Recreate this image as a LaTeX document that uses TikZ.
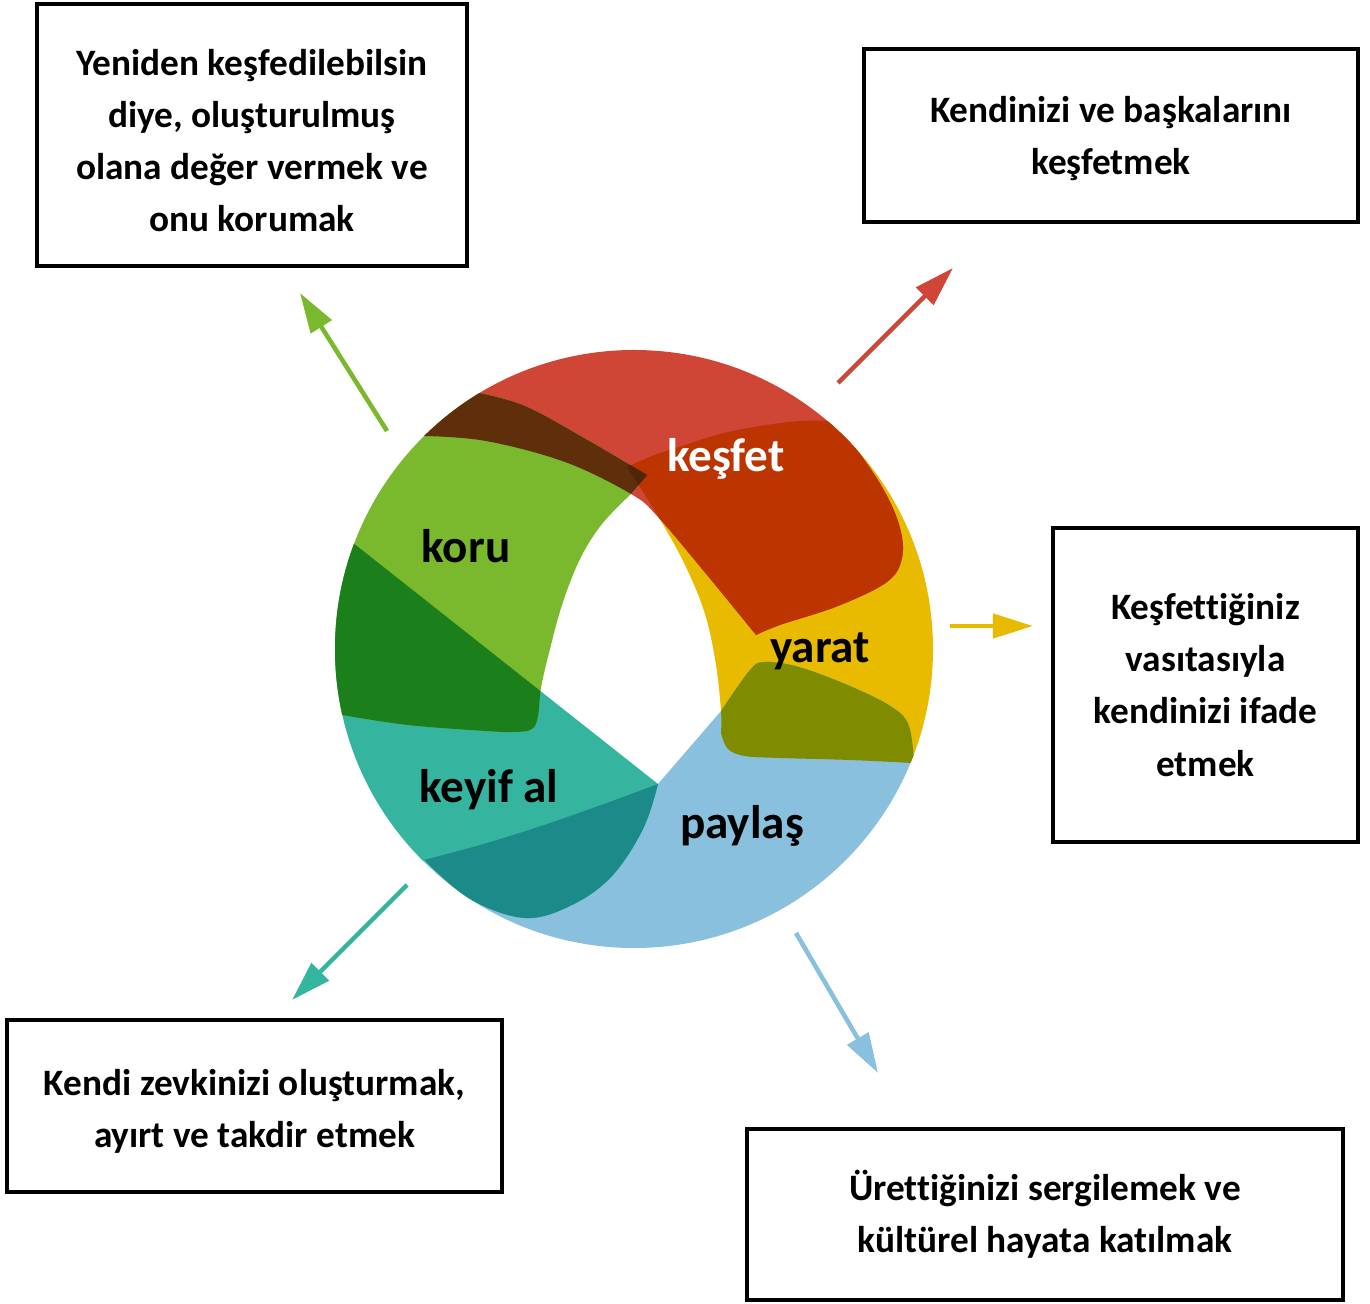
\documentclass[tikz,border=0pt]{standalone}
\usepackage{fontspec}
\setmainfont{Carlito}[Ligatures=NoCommon]
\usetikzlibrary{arrows.meta}
\definecolor{cR}{HTML}{CF4637}
\definecolor{cG}{HTML}{7AB82E}
\definecolor{cY}{HTML}{E8BB00}
\definecolor{cB}{HTML}{89C0DD}
\definecolor{cT}{HTML}{35B59F}
\definecolor{cRY}{HTML}{BC3400}
\definecolor{cRG}{HTML}{5E2F0A}
\definecolor{cRGY}{HTML}{4F2606}
\definecolor{cBY}{HTML}{7F8C00}
\definecolor{cTB}{HTML}{1C8A88}
\definecolor{cGT}{HTML}{1B801C}
\begin{document}
\begin{tikzpicture}[x=0.01cm,y=-0.01cm,
  boxst/.style={draw=black, line width=1.2pt, rectangle, align=center, inner sep=0pt,
    font=\fontsize{10.6}{14.8}\selectfont\bfseries},
  ringlbl/.style={anchor=base, inner sep=0pt, font=\fontsize{13.4}{16}\selectfont\bfseries},
  arr/.style={line width=1.3pt, -{Triangle[length=0.4cm,width=0.24cm]}}]
\useasboundingbox (0,0) rectangle (1370,1304);

\def\pathR{(380,380) -- (424,436) -- plot[smooth,tension=0.6] coordinates {(424,436) (486,441) (565,462) (631,494) (658,517) (707,575) (756,635)} -- plot[smooth,tension=0.6] coordinates {(756,635) (780,625) (838,606) (887,582) (902,558) (900,528) (886,494) (863,458) (834,422)} -- (900,380) -- (640,300) -- cycle}
\def\pathY{(627,467) -- plot[smooth,tension=0.6] coordinates {(627,467) (652,456) (682,446) (720,434) (760,426) (800,421) (836,421)} -- (880,380) -- (1000,600) -- (960,775) -- (912,763) -- plot[smooth,tension=0.6] coordinates {(912,763) (850,760) (780,758) (745,756) (728,749) (721,733)} -- plot[smooth,tension=0.6] coordinates {(721,733) (721,711) (716,665) (705,614) (685,565) (658,516) (627,467)} -- cycle}
\def\pathB{(380,900) -- (424,860) -- plot[smooth,tension=0.6] coordinates {(424,860) (480,845) (541,826) (604,804) (658,784)} -- (721,711) -- plot[smooth,tension=0.6] coordinates {(721,711) (750,670) (765,662) (799,667) (850,686) (892,707) (909,726) (914,763)} -- (960,790) -- (700,1000) -- (380,960) -- cycle}
\def\pathT{(300,501) -- (658,784) -- plot[smooth,tension=0.6] coordinates {(658,784) (643,829) (612,876) (572,905) (525,918) (470,899) (424,860)} -- (380,900) -- (250,700) -- cycle}
\def\pathG{(460,355) -- (479,393) -- plot[smooth,tension=0.6] coordinates {(479,393) (525,406) (584,438) (647,475)} -- (631,494) -- plot[smooth,tension=0.6] coordinates {(631,494) (602,524) (580,559) (562,605) (549,653) (541,688) (538,716) (532,729) (515,732) (486,731) (408,725) (342,715)} -- (300,715) -- (300,400) -- cycle}

% ring
\begin{scope}
  \clip (634,649) circle [radius=299];
  \fill[cY] \pathY;
  \fill[cR] \pathR;
  \fill[cB] \pathB;
  \fill[cT] \pathT;
  \fill[cG] \pathG;
  \begin{scope}\clip \pathY; \fill[cRY] \pathR; \end{scope}
  \begin{scope}\clip \pathB; \fill[cBY] \pathY; \end{scope}
  \begin{scope}\clip \pathT; \fill[cTB] \pathB; \end{scope}
  \begin{scope}\clip \pathG; \fill[cGT] \pathT; \end{scope}
  \begin{scope}\clip \pathG; \fill[cRG] \pathR; \end{scope}
  \begin{scope}\clip \pathG; \clip \pathR; \fill[cRGY] \pathY; \end{scope}
\end{scope}

% ring labels
\node[ringlbl, text=white] (kesfet) at (726,472) {keşfet};
\node[ringlbl] (koru) at (466,563) {koru};
\node[ringlbl] (yarat) at (820,663) {yarat};
\node[ringlbl] (keyif) at (489,803) {keyif al};
\node[ringlbl] (paylas) at (742,838) {paylaş};

% boxes
\node[boxst, minimum width=4.30cm, minimum height=2.62cm] (b1) at (252,135)
  {\rule{0pt}{10.4pt}Yeniden keşfedilebilsin\\diye, oluşturulmuş\\olana değer vermek ve\\onu korumak};
\node[boxst, minimum width=4.94cm, minimum height=1.73cm] (b2) at (1111,135.5)
  {\rule{0pt}{9.2pt}Kendinizi ve başkalarını\\keşfetmek};
\node[boxst, minimum width=3.05cm, minimum height=3.14cm] (b3) at (1205.5,685)
  {Keşfet\kern0pt t\kern0pt iğiniz\\vasıtasıyla\\kendinizi ifade\\etmek};
\node[boxst, minimum width=4.95cm, minimum height=1.72cm] (b4) at (254.5,1106)
  {\rule{0pt}{10.4pt}Kendi zevkinizi oluşturmak,\\ayırt ve takdir etmek};
\node[boxst, minimum width=5.96cm, minimum height=1.71cm] (b5) at (1045,1214.5)
  {Üret\kern0pt t\kern0pt iğinizi sergilemek ve\\kültürel hayata katılmak};

% arrows
\coordinate (gs) at (387,431); \coordinate (ge) at (300,293);
\coordinate (rs) at (838,383); \coordinate (re) at (953,268);
\coordinate (ys) at (950,626); \coordinate (ye) at (1033,626);
\coordinate (ts) at (407,885); \coordinate (te) at (292,1000);
\coordinate (bs) at (796,933); \coordinate (be) at (878,1073);
\draw[arr, cG] (gs) -- (ge);
\draw[arr, cR] (rs) -- (re);
\draw[arr, cY] (ys) -- (ye);
\draw[arr, cT] (ts) -- (te);
\draw[arr, cB] (bs) -- (be);
\end{tikzpicture}
\end{document}
